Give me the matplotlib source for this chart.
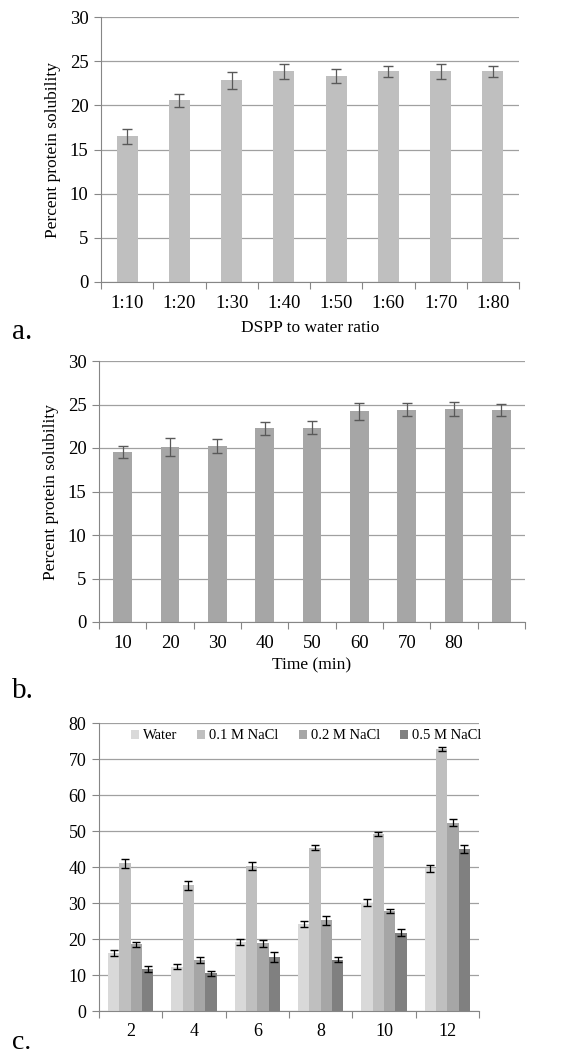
import matplotlib.pyplot as plt
import numpy as np

plt.rcParams['font.family'] = ['Liberation Serif', 'DejaVu Serif']

# panel a: DSPP to water ratio
ratios = ["1:10", "1:20", "1:30", "1:40", "1:50", "1:60", "1:70", "1:80"]
sol_a = [16.5, 20.55, 22.85, 23.85, 23.35, 23.85, 23.85, 23.85]
err_a = [0.85, 0.75, 0.95, 0.85, 0.8, 0.6, 0.85, 0.6]

# panel b: time
times = ["10", "20", "30", "40", "50", "60", "70", "80", ""]
sol_b = [19.5, 20.1, 20.25, 22.25, 22.35, 24.2, 24.4, 24.5, 24.4]
err_b = [0.7, 1.0, 0.8, 0.7, 0.7, 1.0, 0.75, 0.8, 0.7]

# panel c: pH vs salt
ph = ["2", "4", "6", "8", "10", "12"]
series = ["Water", "0.1 M NaCl", "0.2 M NaCl", "0.5 M NaCl"]
water = [16.1, 12.3, 19.2, 24.2, 30.1, 39.6]
nacl01 = [41.0, 34.9, 40.3, 45.4, 49.2, 72.8]
nacl02 = [18.5, 14.2, 18.8, 25.2, 27.8, 52.3]
nacl05 = [11.7, 10.5, 15.1, 14.3, 21.8, 44.9]
err_water = [0.9, 0.7, 0.8, 0.8, 1.0, 0.9]
err_01 = [1.2, 1.2, 1.0, 0.8, 0.5, 0.6]
err_02 = [0.7, 0.9, 1.0, 1.25, 0.65, 1.0]
err_05 = [0.75, 0.7, 1.35, 0.7, 1.0, 1.1]
colors_c = ["#D9D9D9", "#BFBFBF", "#A6A6A6", "#808080"]

W, H = 578, 1055
fig = plt.figure(figsize=(W / 100, H / 100), dpi=100)


def add_ax(left, top, right, bottom):
    return fig.add_axes([left / W, 1 - bottom / H, (right - left) / W, (bottom - top) / H])


def style(ax, labels, ymax, ystep, fs):
    n = len(labels)
    ax.set_xlim(-0.5, n - 0.5)
    ax.set_ylim(0, ymax)
    ax.set_yticks(np.arange(0, ymax + 1, ystep))
    ax.set_xticks(np.arange(n + 1) - 0.5)
    ax.set_xticklabels([])
    ax.set_xticks(np.arange(n), minor=True)
    ax.set_xticklabels(labels, minor=True, fontsize=fs)
    ax.tick_params(axis="x", which="major", length=5, color="#868686")
    ax.tick_params(axis="x", which="minor", length=0, pad=9)
    ax.tick_params(axis="y", length=5, color="#868686", labelsize=fs, pad=4)
    ax.grid(axis="y", color="#A0A0A0", linewidth=0.9)
    ax.set_axisbelow(True)
    for s in ["top", "right"]:
        ax.spines[s].set_visible(False)
    for s in ["left", "bottom"]:
        ax.spines[s].set_color("#868686")


# a
ax1 = add_ax(101, 17, 519, 282)
x = np.arange(len(ratios))
ax1.bar(x, sol_a, 0.4, color="#BFBFBF")
ax1.errorbar(x, sol_a, yerr=err_a, fmt="none", ecolor="#595959", elinewidth=0.9, capsize=3.5)
style(ax1, ratios, 30, 5, 13.5)
ax1.set_ylabel("Percent protein solubility", fontsize=12.5, labelpad=6)
ax1.set_xlabel("DSPP to water ratio", fontsize=12.5, labelpad=6)
fig.text(12 / W, 1 - 339 / H, "a.", fontsize=21)

# b
ax2 = add_ax(99, 361, 525, 622)
x = np.arange(len(times))
ax2.bar(x, sol_b, 0.39, color="#A6A6A6")
ax2.errorbar(x, sol_b, yerr=err_b, fmt="none", ecolor="#595959", elinewidth=0.9, capsize=3.5)
style(ax2, times, 30, 5, 13.5)
ax2.set_ylabel("Percent protein solubility", fontsize=12.5, labelpad=6)
ax2.set_xlabel("Time (min)", fontsize=12.5, labelpad=4)
fig.text(12 / W, 1 - 698 / H, "b.", fontsize=21)

# c
ax3 = add_ax(99, 723, 479, 1011)
x = np.arange(len(ph))
bw = 0.18
vals = [water, nacl01, nacl02, nacl05]
errs = [err_water, err_01, err_02, err_05]
for i, (v, e, c, name) in enumerate(zip(vals, errs, colors_c, series)):
    xi = x + (i - 1.5) * bw
    ax3.bar(xi, v, bw, color=c, label=name)
    ax3.errorbar(xi, v, yerr=e, fmt="none", ecolor="black", elinewidth=0.9, capsize=3)
style(ax3, ph, 80, 10, 13)
ax3.legend(loc="center", bbox_to_anchor=(0.545, 0.955), ncol=4, frameon=False,
           fontsize=10.5, handlelength=0.55, handleheight=0.55, handletextpad=0.25,
           columnspacing=1.4, borderpad=0)
fig.text(12 / W, 1 - 1049 / H, "c.", fontsize=20)

fig.savefig("out.png", dpi=100)
